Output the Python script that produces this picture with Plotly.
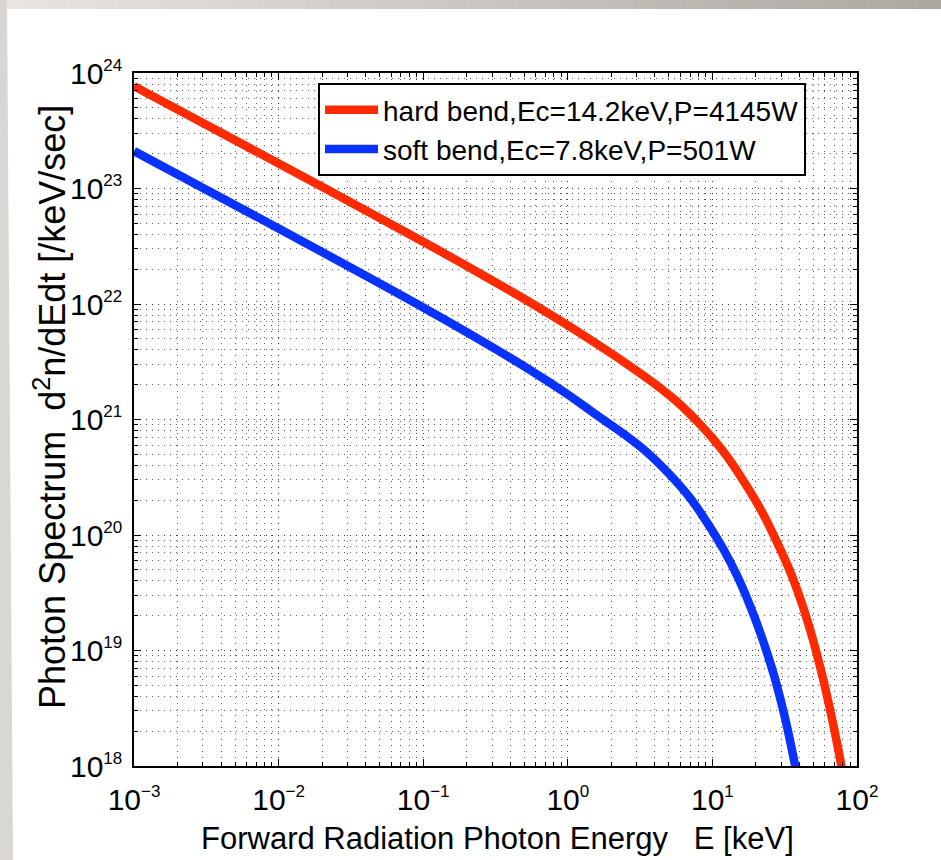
import plotly.graph_objects as go

# ---------------- data ----------------
hard_E = [0.001, 0.01, 0.1, 0.3, 0.6, 1.0, 1.6, 2.5, 4.0, 6.0, 8.0, 10,
          13, 17, 22, 28, 35, 42, 50, 58, 66, 74, 82]
hard_logN = [23.886, 23.217, 22.539, 22.204, 21.985, 21.815, 21.651, 21.49, 21.308, 21.128,
             20.973, 20.839, 20.658, 20.437, 20.201, 19.936, 19.664, 19.39, 19.077, 18.764,
             18.453, 18.151, 17.856]

soft_E = [0.001, 0.01, 0.1, 0.3, 0.6, 1.0, 1.6, 2.5, 3.5, 5.0, 7.0, 9.0,
          12, 15, 18, 21, 24, 27, 30, 33, 36, 39]
soft_logN = [23.324, 22.654, 21.970, 21.627, 21.398, 21.217, 21.034, 20.864, 20.720, 20.531,
             20.321, 20.125, 19.870, 19.634, 19.404, 19.185, 18.971, 18.762, 18.546, 18.327,
             18.102, 17.883]

hard_N = [10 ** v for v in hard_logN]
soft_N = [10 ** v for v in soft_logN]

hard_label = "hard bend,Ec=14.2keV,P=4145W"
soft_label = "soft bend,Ec=7.8keV,P=501W"

x_tickvals = [1e-3, 1e-2, 1e-1, 1e0, 1e1, 1e2]
x_exponents = ["\u22123", "\u22122", "\u22121", "0", "1", "2"]
y_tickvals = [1e18, 1e19, 1e20, 1e21, 1e22, 1e23, 1e24]
y_exponents = ["18", "19", "20", "21", "22", "23", "24"]

x_title = "Forward Radiation Photon Energy   E [keV]"
y_title = "Photon Spectrum  d<sup>2</sup>n/dEdt [/keV/sec]"

SUP = '10<sup><span style="font-size:17px">%s</span></sup>'
x_ticktext = [SUP % e for e in x_exponents]
y_ticktext = [SUP % e for e in y_exponents]

# ---------------- figure ----------------
W, H = 941, 860
L, R, T, B = 134, 84, 73, 94
pw, ph = W - L - R, H - T - B

def px2paper_x(px):
    return (px - L) / pw

def px2paper_y(py):
    return (H - B - py) / ph

fig = go.Figure()
fig.add_trace(go.Scatter(x=hard_E, y=hard_N, mode="lines", name=hard_label,
                         line=dict(color="#ff2a00", width=8.5, shape="spline")))
fig.add_trace(go.Scatter(x=soft_E, y=soft_N, mode="lines", name=soft_label,
                         line=dict(color="#0a32ff", width=8.5, shape="spline")))

font_family = "Liberation Sans, Arial, Helvetica, sans-serif"
grid_col = "rgba(40,40,40,0.75)"

axis_common = dict(
    type="log",
    showline=True, linecolor="black", linewidth=1.5, mirror="allticks",
    ticks="inside", ticklen=7, tickwidth=1.2, tickcolor="black",
    showgrid=True, gridcolor=grid_col, gridwidth=1, griddash="1px,5px",
    zeroline=False,
    tickfont=dict(size=30, color="black", family=font_family),
    minor=dict(dtick="D1", ticks="inside", ticklen=4, tickcolor="black",
               showgrid=True, gridcolor=grid_col, gridwidth=1, griddash="1px,5px"),
)

fig.update_xaxes(range=[-3, 2], tickvals=x_tickvals, ticktext=x_ticktext,
                 ticklabelstandoff=6, **axis_common)
fig.update_yaxes(range=[18, 24], tickvals=y_tickvals, ticktext=y_ticktext,
                 ticklabelstandoff=4, **axis_common)

# axis titles as annotations (placed like the reference)
annotations = [
    dict(text=x_title, xref="paper", yref="paper", x=px2paper_x(497), y=px2paper_y(838),
         xanchor="center", yanchor="middle", showarrow=False,
         font=dict(size=31, color="black", family=font_family)),
    dict(text=y_title, xref="paper", yref="paper", x=px2paper_x(50), y=px2paper_y(407),
         xanchor="center", yanchor="middle", showarrow=False, textangle=-90,
         font=dict(size=36, color="black", family=font_family)),
]

# gray frame (top strip gradient and left strip)
shapes = []
n = 40
c0 = (232, 229, 225)
c1 = (172, 168, 162)
for i in range(n):
    t = i / (n - 1)
    col = tuple(int(round(c0[k] + (c1[k] - c0[k]) * t)) for k in range(3))
    x0 = px2paper_x(i * W / n)
    x1 = px2paper_x((i + 1) * W / n + 1)
    shapes.append(dict(type="rect", xref="paper", yref="paper", x0=x0, x1=x1,
                       y0=px2paper_y(9), y1=px2paper_y(0), fillcolor="rgb(%d,%d,%d)" % col,
                       line=dict(width=0), layer="below"))
shapes.append(dict(type="path", xref="paper", yref="paper",
                   path="M %f,%f L %f,%f L %f,%f L %f,%f Z" % (
                       px2paper_x(0), px2paper_y(0), px2paper_x(7), px2paper_y(0),
                       px2paper_x(13), px2paper_y(H), px2paper_x(0), px2paper_y(H)),
                   fillcolor="rgb(218,215,210)", line=dict(width=0), layer="below"))

fig.update_layout(
    width=W, height=H,
    margin=dict(l=L, r=R, t=T, b=B, autoexpand=False),
    paper_bgcolor="white", plot_bgcolor="white",
    font=dict(family=font_family, color="black"),
    shapes=shapes,
    annotations=annotations,
    legend=dict(x=px2paper_x(318), y=px2paper_y(83), xanchor="left", yanchor="top",
                bgcolor="white", bordercolor="black", borderwidth=2,
                font=dict(size=28, color="black", family=font_family),
                itemwidth=53, tracegroupgap=0),
    showlegend=True,
)

fig.write_html("out.html")
